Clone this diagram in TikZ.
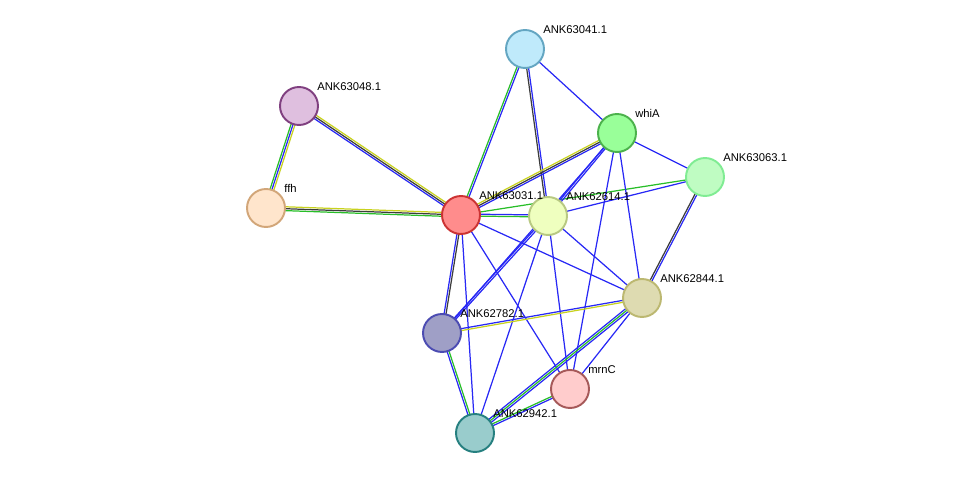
\documentclass[tikz,border=0pt]{standalone}
\usepackage{fontspec}
\setmainfont{Liberation Sans}
\usetikzlibrary{calc, backgrounds}

\definecolor{eblue}{RGB}{40,40,245}
\definecolor{egreen}{RGB}{40,190,40}
\definecolor{eyellow}{RGB}{200,210,30}
\definecolor{edark}{RGB}{60,60,60}

\tikzset{
  prot/.style 2 args={circle, minimum size=0.76cm, inner sep=0, line width=1.1pt, fill=#1, draw=#2},
  lbl/.style={anchor=base west, inner sep=0, font=\fontsize{6.4}{7}\selectfont}
}
% parallel edge lines: offset/colour pairs
\newcommand\link[3]{%
  \foreach \o/\c in {#3}{%
    \draw[\c, line width=0.7pt] ($(#1)!\o*1.1pt!90:(#2)$) -- ($(#2)!\o*1.1pt!-90:(#1)$);
  }}

\begin{document}
\begin{tikzpicture}[x=0.02cm, y=-0.02cm]
          \useasboundingbox (0,0) rectangle (975,479);

          \node[prot={cyan!25}{cyan!50!gray}] (a41) at (525,49) {}; % ANK63041.1
          \node[prot={violet!25}{violet!50!gray}] (a48) at (299,106) {};
          \node[prot={green!40!white}{green!40!gray}] (whia) at (617,133) {};
          \node[prot={teal!10!green!25}{teal!30!green!50!white}] (a63) at (705,177) {};
          \node[prot={orange!20}{brown!70!white}] (ffh) at (266,208) {};
          \node[prot={red!45}{red!60!gray}] (a31) at (461,215) {};
          \node[prot={lime!25}{lime!40!gray!70}] (a14) at (548,216) {};
          \node[prot={yellow!40!gray!50}{yellow!40!gray}] (a44) at (642,298) {};
          \node[prot={blue!25!gray!60}{blue!40!gray}] (a82) at (442,333) {};
          \node[prot={red!20}{red!30!gray}] (mrnc) at (570,389) {};
          \node[prot={teal!40}{teal!70!gray}] (a42) at (475,433) {};

          \foreach \n/\t in {a41/ANK63041.1, a48/ANK63048.1, whia/whiA, a63/ANK63063.1, ffh/ffh,
                             a31/ANK63031.1, a14/ANK62614.1, a44/ANK62844.1, a82/ANK62782.1,
                             mrnc/mrnC, a42/ANK62942.1}
            \node[lbl] at ($(\n.center)+(18,-15)$) {\t};

          \begin{scope}[on background layer]
            \link{a41}{a31}{-0.5/egreen,0.5/eblue}
            \link{a41}{a14}{-0.5/edark,0.5/eblue}
            \link{a41}{whia}{0/eblue}
            \link{a48}{ffh}{-1/egreen,0/eblue,1/eyellow}
            \link{a48}{a31}{-1/eblue,0/edark,1/eyellow}
            \link{ffh}{a31}{-1/egreen,0/edark,1/eyellow}
            \link{a31}{whia}{-1/eblue,0/edark,1/eyellow}
            \link{a31}{a14}{-0.5/egreen,0.5/eblue}
            \link{a31}{a63}{0/egreen}
            \link{a14}{a63}{0/eblue}
            \link{whia}{a14}{-0.5/eblue,0.5/eblue}
            \link{whia}{a63}{0/eblue}
            \link{whia}{a44}{0/eblue}
            \link{whia}{mrnc}{0/eblue}
            \link{whia}{a82}{0/eblue}
            \link{a63}{a44}{-0.5/edark,0.5/eblue}
            \link{a31}{a82}{-0.5/eblue,0.5/edark}
            \link{a31}{a42}{0/eblue}
            \link{a31}{mrnc}{0/eblue}
            \link{a31}{a44}{0/eblue}
            \link{a14}{a44}{0/eblue}
            \link{a14}{mrnc}{0/eblue}
            \link{a14}{a42}{0/eblue}
            \link{a14}{a82}{-0.5/eblue,0.5/eblue}
            \link{a82}{a44}{-0.5/eyellow,0.5/eblue}
            \link{a82}{a42}{-0.5/eblue,0.5/egreen}
            \link{a44}{a42}{-1/eblue,0/egreen,1/eblue}
            \link{a44}{mrnc}{0/eblue}
            \link{mrnc}{a42}{-0.5/egreen,0.5/eblue}
          \end{scope}
        \end{tikzpicture}
\end{document}
